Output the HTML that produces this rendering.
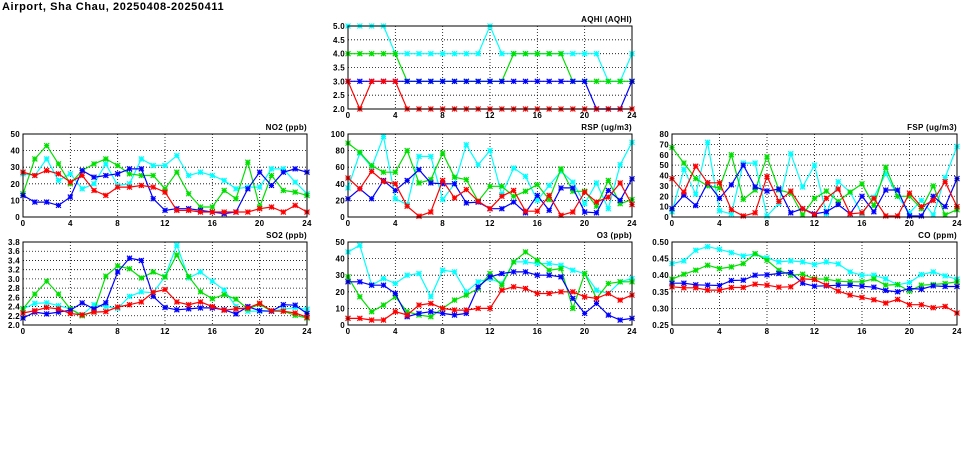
<!DOCTYPE html>
<html><head><meta charset="utf-8">
<style>
body{margin:0;background:#fff;width:975px;height:447px;overflow:hidden;font-family:"Liberation Sans",sans-serif}
svg text{font-family:"Liberation Sans",sans-serif;font-weight:bold;font-size:8px;fill:#000;letter-spacing:0.3px}
</style></head>
<body>
<svg id="c" width="975" height="447">
<text x="2" y="10" style="font-size:11px;letter-spacing:0.6px">Airport, Sha Chau, 20250408-20250411</text>
</svg>
<script>
const hours=[0,1,2,3,4,5,6,7,8,9,10,11,12,13,14,15,16,17,18,19,20,21,22,23,24];
const xTicks=[0,4,8,12,16,20,24];
const seriesNames=["cyan","green","blue","red"];
const seriesColors=["#00ffff","#00e000","#0000ff","#ff0000"];

const aqhiCyan=[5,5,5,5,4,4,4,4,4,4,4,4,5,4,4,4,4,4,4,4,4,4,3,3,4];
const aqhiGreen=[4,4,4,4,4,3,3,3,3,3,3,3,3,3,4,4,4,4,4,3,3,3,3,3,3];
const aqhiBlue=[3,3,3,3,3,3,3,3,3,3,3,3,3,3,3,3,3,3,3,3,3,2,2,2,3];
const aqhiRed=[3,2,3,3,3,2,2,2,2,2,2,2,2,2,2,2,2,2,2,2,2,2,2,2,2];
const aqhiTicks=[2,2.5,3,3.5,4,4.5,5];

const no2Cyan=[26,25,35,22,26,17,20,32,19,20,35,31,31,37,25,27,25,22,17,18,18,29,29,21,14];
const no2Green=[14,35,43,32,20,28,32,35,31,26,25,25,17,27,14,6,6,16,11,33,6,25,16,15,13];
const no2Blue=[13,9,9,7,12,28,24,25,26,29,29,11,4,5,5,4,3,2,3,17,27,19,27,29,27];
const no2Red=[27,25,28,26,21,25,16,13,18,18,19,18,15,4,4,3,3,3,3,3,5,6,3,7,3];
const no2Ticks=[0,10,20,30,40,50];

const rspCyan=[35,77,60,97,22,15,73,73,21,40,87,63,80,27,59,49,20,38,55,42,16,41,10,63,90];
const rspGreen=[89,78,62,54,54,80,41,45,77,48,45,19,37,37,25,31,39,21,58,31,31,13,44,16,21];
const rspBlue=[22,34,22,44,32,44,57,41,40,40,17,18,10,10,18,5,26,8,35,35,6,5,32,20,46];
const rspRed=[47,34,55,43,40,13,1,6,44,23,33,19,10,25,32,7,7,26,2,6,30,18,24,41,15];
const rspTicks=[0,20,40,60,80,100];

const fspCyan=[5,46,22,72,6,3,52,52,1,13,61,29,50,3,34,24,3,19,42,20,4,16,2,38,68];
const fspGreen=[67,52,37,30,28,60,17,26,58,26,23,2,18,25,15,24,32,11,48,20,20,8,30,2,7];
const fspBlue=[8,21,11,33,18,31,50,29,25,27,4,8,3,5,12,3,20,5,26,26,1,1,20,10,37];
const fspRed=[37,24,49,33,33,7,1,4,39,15,25,8,2,18,27,3,4,18,1,1,23,10,16,34,10];
const fspTicks=[0,10,20,30,40,50,60,70,80];

const so2Cyan=[2.35,2.47,2.48,2.42,2.35,2.22,2.44,2.40,2.36,2.62,2.72,2.70,3.05,3.73,3.02,3.15,2.95,2.76,2.40,2.30,2.30,2.30,2.34,2.38,2.34];
const so2Green=[2.35,2.67,2.95,2.67,2.35,2.20,2.30,3.06,3.28,3.22,3.02,3.15,3.04,3.52,3.05,2.72,2.57,2.66,2.56,2.35,2.45,2.30,2.30,2.21,2.15];
const so2Blue=[2.15,2.28,2.24,2.28,2.32,2.48,2.35,2.48,3.15,3.45,3.40,2.62,2.38,2.33,2.35,2.37,2.37,2.33,2.24,2.40,2.31,2.30,2.44,2.43,2.25];
const so2Red=[2.26,2.31,2.38,2.35,2.25,2.22,2.28,2.29,2.39,2.44,2.50,2.71,2.77,2.50,2.44,2.50,2.40,2.32,2.35,2.37,2.47,2.31,2.30,2.26,2.17];
const so2Ticks=[2.0,2.2,2.4,2.6,2.8,3.0,3.2,3.4,3.6,3.8];

const o3Cyan=[44,48,24,28,25,30,31,17,33,32,20,26,28,25,38,38,37,37,36,33,31,21,19,26,28];
const o3Green=[29,17,8,12,17,8,6,5,10,15,18,22,31,24,38,44,39,33,34,10,31,16,25,26,26];
const o3Blue=[26,26,24,24,19,5,7,8,7,6,7,23,29,31,32,32,30,30,29,16,7,13,6,3,4];
const o3Red=[4,4,3,3,8,6,12,13,10,9,9,10,10,21,23,22,19,19,20,20,17,16,19,15,18];
const o3Ticks=[0,10,20,30,40,50];

const coCyan=[.435,.443,.475,.486,.478,.468,.458,.464,.452,.440,.443,.440,.432,.440,.434,.410,.400,.400,.389,.371,.378,.402,.410,.398,.388];
const coGreen=[.388,.403,.415,.430,.420,.425,.435,.465,.445,.415,.400,.403,.389,.388,.382,.380,.380,.389,.370,.372,.352,.370,.372,.375,.380];
const coBlue=[.376,.376,.371,.370,.369,.384,.385,.400,.401,.405,.408,.376,.367,.368,.370,.370,.367,.364,.354,.350,.360,.358,.368,.366,.366];
const coRed=[.365,.362,.362,.355,.355,.363,.363,.373,.370,.364,.365,.389,.387,.370,.352,.340,.333,.326,.316,.327,.311,.311,.302,.306,.286];
const coTicks=[0.25,0.30,0.35,0.40,0.45,0.50];

const NS="http://www.w3.org/2000/svg";
const svg=document.getElementById('c');
function mk(tag,attrs,parent){const e=document.createElementNS(NS,tag);for(const k in attrs)e.setAttribute(k,attrs[k]);(parent||svg).appendChild(e);return e;}

function panel(name,title,L,R,T,B,yTicks,dec,series){
  const g=mk('g',{});
  
  
  const ymin=yTicks[0],ymax=yTicks[yTicks.length-1];
  const sx=v=>L+(v-hours[0])/(hours[hours.length-1]-hours[0])*(R-L);
  const sy=v=>B-(v-ymin)/(ymax-ymin)*(B-T);
  yTicks.forEach(t=>{
    const y=sy(t);
    if(t!==ymin&&t!==ymax){const gl=mk('line',{x1:L,x2:R,y1:y,y2:y,stroke:'#000','stroke-width':0.8,'stroke-dasharray':'1,2'},g);
    
    }
    const tx=mk('text',{x:L-3,y:y+3,'text-anchor':'end'},g);tx.textContent=t.toFixed(dec);
    
    
  });
  xTicks.forEach(t=>{
    const x=sx(t);
    if(t!==xTicks[0]&&t!==xTicks[xTicks.length-1]){const gl=mk('line',{x1:x,x2:x,y1:T,y2:B,stroke:'#000','stroke-width':0.8,'stroke-dasharray':'1,2'},g);
    
    }
    const tx=mk('text',{x:x,y:B+9,'text-anchor':'middle'},g);tx.textContent=t;
    
    
  });
  series.forEach((vals,si)=>{
    const col=seriesColors[si];
    const pts=vals.map((v,i)=>sx(hours[i]).toFixed(1)+','+sy(v).toFixed(1)).join(' ');
    const pl=mk('polyline',{points:pts,fill:'none',stroke:col,'stroke-width':1.2},g);
    
    
    vals.forEach((v,i)=>{
      const x=sx(hours[i]),y=sy(v),s=2.5;
      const m=mk('path',{d:`M${x-s},${y-s}L${x+s},${y+s}M${x-s},${y+s}L${x+s},${y-s}M${x-s},${y}L${x+s},${y}M${x},${y-s}L${x},${y+s}`,stroke:col,'stroke-width':1.2,fill:'none'},g);
      
      
    });
  });
  const fr=mk('rect',{x:L,y:T,width:R-L,height:B-T,fill:'none',stroke:'#000','stroke-width':1},g);
  
  
  const tt=mk('text',{x:R,y:T-4,'text-anchor':'end'},g);tt.textContent=title;
  
  
}
const C1=[23,307],C2=[348,632],C3=[672,957];
const R1=[26,109],R2=[134,217],R3=[242,325];
panel('aqhi','AQHI (AQHI)',C2[0],C2[1],R1[0],R1[1],aqhiTicks,1,[aqhiCyan,aqhiGreen,aqhiBlue,aqhiRed]);
panel('no2','NO2 (ppb)',C1[0],C1[1],R2[0],R2[1],no2Ticks,0,[no2Cyan,no2Green,no2Blue,no2Red]);
panel('rsp','RSP (ug/m3)',C2[0],C2[1],R2[0],R2[1],rspTicks,0,[rspCyan,rspGreen,rspBlue,rspRed]);
panel('fsp','FSP (ug/m3)',C3[0],C3[1],R2[0],R2[1],fspTicks,0,[fspCyan,fspGreen,fspBlue,fspRed]);
panel('so2','SO2 (ppb)',C1[0],C1[1],R3[0],R3[1],so2Ticks,1,[so2Cyan,so2Green,so2Blue,so2Red]);
panel('o3','O3 (ppb)',C2[0],C2[1],R3[0],R3[1],o3Ticks,0,[o3Cyan,o3Green,o3Blue,o3Red]);
panel('co','CO (ppm)',C3[0],C3[1],R3[0],R3[1],coTicks,2,[coCyan,coGreen,coBlue,coRed]);
</script>
</body></html>
